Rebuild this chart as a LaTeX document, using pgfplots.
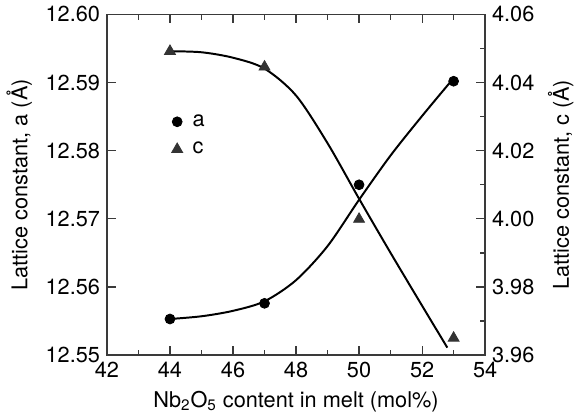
\documentclass[border=0pt]{standalone}
\usepackage{fontspec}
\setmainfont{TeX Gyre Heros}
\usepackage{pgfplots}
\pgfplotsset{compat=1.18}
\definecolor{axisgray}{HTML}{3A3A3A}
\definecolor{markgray}{HTML}{333333}

\newcommand{\lblfont}{\fontsize{11}{13}\selectfont}

\pgfplotsset{base/.style={
  width=191.5pt, height=172.5pt, scale only axis,
  xmin=42, xmax=54, xtick={42,44,...,54}, minor x tick num=1,
  tick align=inside, major tick length=4.5pt, minor tick length=2.8pt,
  every tick/.style={axisgray, line width=0.6pt},
  axis line style={axisgray, line width=0.7pt},
  /pgf/number format/assume math mode=true,
  tick label style={font=\lblfont},
  label style={font=\lblfont},
  y tick label style={/pgf/number format/.cd, fixed, fixed zerofill, precision=2},
}}

\begin{document}
\begin{tikzpicture}
% lattice constant a (left axis)
\begin{axis}[base,
  ymin=12.55, ymax=12.60, ytick={12.55,12.56,...,12.601}, minor y tick num=1,
  ytick pos=left, xtick pos=both,
  xlabel={Nb\textsubscript{2}O\textsubscript{5} content in melt (mol\%)},
  ylabel={Lattice constant, a (Å)}]
  \addplot[black, line width=1pt, smooth] coordinates {
    (44,12.5553) (45,12.5557) (46,12.5565) (47,12.5579) (48,12.5610)
    (49,12.5660) (50,12.5728) (51,12.5793) (52,12.5851) (52.9,12.5901)};
  \addplot[only marks, mark=*, mark size=2.5pt, black] coordinates {
    (44,12.5553) (47,12.5576) (50,12.5750) (53,12.5902)};
\end{axis}
% lattice constant c (right axis)
\begin{axis}[base,
  hide x axis, axis y line*=right,
  ymin=3.96, ymax=4.06, ytick={3.96,3.98,...,4.061}, minor y tick num=1,
  ylabel={Lattice constant, c (Å)},
  legend style={draw=none, fill=none, at={(axis description cs:0.165,0.725)}, anchor=north west,
    font=\lblfont, row sep=2.5pt, column sep=3pt, inner sep=1pt},
  legend cell align=left]
  \addlegendimage{only marks, mark=*, mark size=2.5pt, black}
  \addlegendentry{a}
  \addplot[black, line width=1pt, smooth, forget plot] coordinates {
    (44,4.0492) (45,4.0489) (46,4.0473) (47,4.0441) (48,4.0362)
    (49,4.0222) (50,4.0059) (51,3.9900) (52,3.9745) (52.8,3.9622)};
  \addplot[only marks, mark=triangle*, mark size=3.2pt, markgray] coordinates {
    (44,4.0492) (47,4.0446) (50,3.9999) (53,3.9650)};
  \addlegendentry{c}
\end{axis}
\end{tikzpicture}
\end{document}
